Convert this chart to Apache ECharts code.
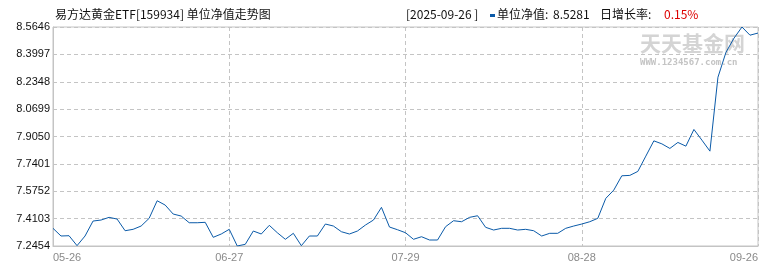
<!DOCTYPE html>
<html>
<head>
<meta charset="utf-8">
<script src="https://cdn.jsdelivr.net/npm/echarts@6/dist/echarts.min.js"></script>
<style>
html,body{margin:0;padding:0;background:#fff;}
#c{width:770px;height:270px;}
</style>
</head>
<body>
<div id="c"></div>
<script>
// ---- data ----
const dates = [
 '05-26','05-27','05-28','05-29','05-30',
 '06-03','06-04','06-05','06-06',
 '06-09','06-10','06-11','06-12','06-13',
 '06-16','06-17','06-18','06-19','06-20',
 '06-23','06-24','06-25','06-26','06-27',
 '06-30',
 '07-01','07-02','07-03','07-04',
 '07-07','07-08','07-09','07-10','07-11',
 '07-14','07-15','07-16','07-17','07-18',
 '07-21','07-22','07-23','07-24','07-25',
 '07-28','07-29','07-30','07-31',
 '08-01',
 '08-04','08-05','08-06','08-07','08-08',
 '08-11','08-12','08-13','08-14','08-15',
 '08-18','08-19','08-20','08-21','08-22',
 '08-25','08-26','08-27','08-28','08-29',
 '09-01','09-02','09-03','09-04','09-05',
 '09-08','09-09','09-10','09-11','09-12',
 '09-15','09-16','09-17','09-18','09-19',
 '09-22','09-23','09-24','09-25','09-26'
];
const navValues = [
 7.3519,7.3056,7.3074,7.2475,7.3056,7.3958,7.4018,7.4180,7.4078,7.3374,
 7.3459,7.3657,7.4120,7.5179,7.4920,7.4379,7.4259,7.3855,7.3855,7.3880,
 7.2977,7.3176,7.3459,7.2454,7.2556,7.3356,7.3176,7.3699,7.3254,7.2857,
 7.3218,7.2472,7.3056,7.3056,7.3777,7.3657,7.3314,7.3176,7.3356,7.3717,
 7.4018,7.4782,7.3597,7.3434,7.3254,7.2857,7.3013,7.2815,7.2815,7.3615,
 7.3976,7.3916,7.4180,7.4277,7.3579,7.3416,7.3519,7.3519,7.3416,7.3459,
 7.3374,7.3056,7.3218,7.3218,7.3519,7.3657,7.3777,7.3916,7.4120,7.5323,
 7.5822,7.6683,7.6707,7.6947,7.7868,7.8788,7.8607,7.8331,7.8692,7.8469,
 7.9474,7.8830,7.8168,8.2620,8.4120,8.4970,8.5646,8.5153,8.5281
];
const yTicks = [7.2454,7.4103,7.5752,7.7401,7.9050,8.0699,8.2348,8.3997,8.5646];
const xTickIndex = [0,22,44,66,88];
const xTickLabels = ['05-26','06-27','07-29','08-28','09-26'];

const titleText = '易方达黄金ETF[159934] 单位净值走势图';
const legendDate = '[2025-09-26 ]';
const legendName = '单位净值:';
const legendValue = '8.5281';
const rateName = '日增长率:';
const rateValue = '0.15%';

// ---- chart ----
const lineColor = '#0a5aa8';
const gridColor = '#c4c4c4';
const cjk = '"Noto Sans CJK SC", "Liberation Sans", sans-serif';

const chart = echarts.init(document.getElementById('c'), null, {renderer:'canvas'});
chart.setOption({
  animation:false,
  backgroundColor:'#fff',
  grid:{left:53, right:12, top:27, bottom:24, show:true, borderColor:gridColor, borderWidth:1, backgroundColor:'transparent'},
  xAxis:{
    type:'category', boundaryGap:false, data:dates,
    axisLine:{show:true, lineStyle:{color:gridColor}},
    axisTick:{show:false},
    axisLabel:{
      interval:(idx)=>xTickIndex.indexOf(idx)>=0,
      formatter:(v,idx)=>{const k=xTickIndex.indexOf(idx);return k>=0?xTickLabels[k]:'';},
      color:'#8a8a8a', fontFamily:'"Liberation Sans", sans-serif', fontSize:11, margin:6,
      alignMinLabel:'left', alignMaxLabel:'right'
    },
    splitLine:{show:true, interval:(idx)=>xTickIndex.indexOf(idx)>=0, lineStyle:{color:gridColor, type:[4,3], width:1}}
  },
  yAxis:{
    type:'value', min:yTicks[0], max:yTicks[yTicks.length-1],
    axisLine:{show:true, lineStyle:{color:gridColor}},
    axisTick:{show:false, customValues:yTicks},
    axisLabel:{customValues:yTicks, formatter:(v)=>Number(v).toFixed(4), color:'#111', fontFamily:'"Liberation Sans", sans-serif', fontSize:11, margin:3},
    splitLine:{show:true, lineStyle:{color:gridColor, type:[4,3], width:1}}
  },
  graphic:[
    {type:'text', left:55, top:8, z:10, style:{text:titleText, font:'12px '+cjk, fill:'#111'}},
    {type:'text', left:406, top:8, z:10, style:{text:legendDate, font:'12px '+cjk, fill:'#111'}},
    {type:'rect', left:490, top:14, z:10, shape:{width:5,height:3}, style:{fill:lineColor}},
    {type:'text', left:497, top:8, z:10, style:{text:legendName, font:'12px '+cjk, fill:'#111'}},
    {type:'text', left:553, top:8, z:10, style:{text:legendValue, font:'12px '+cjk, fill:'#111'}},
    {type:'text', left:600, top:8, z:10, style:{text:rateName, font:'12px '+cjk, fill:'#111'}},
    {type:'text', left:664, top:8, z:10, style:{text:rateValue, font:'12px '+cjk, fill:'#dd0000'}},
    {type:'text', left:640, top:33, z:-1, style:{text:'天天基金网', font:'bold 21px '+cjk, fill:'#d4d4d4'}},
    {type:'text', left:640, top:58, z:-1, style:{text:'WWW.1234567.com.cn', font:'bold 9px "DejaVu Sans Mono", monospace', fill:'#c4c4c4'}}
  ],
  series:[{
    type:'line', data:navValues, showSymbol:false, smooth:false,
    lineStyle:{color:lineColor, width:1}, itemStyle:{color:lineColor}, z:5
  }]
});
</script>
</body>
</html>
